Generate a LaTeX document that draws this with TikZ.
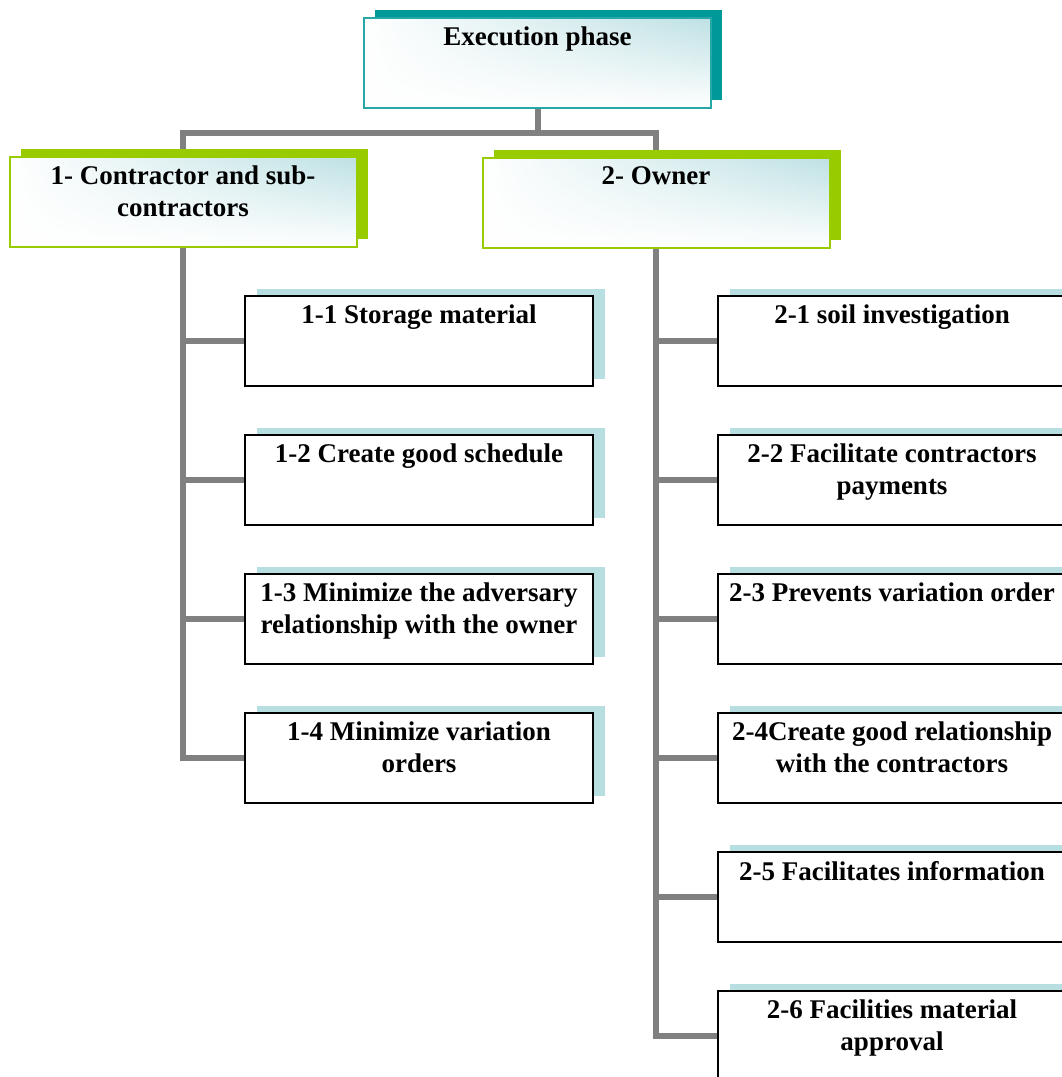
\documentclass[tikz,border=0pt]{standalone}
\usepackage{fontspec}
\setmainfont{Liberation Serif}
\usetikzlibrary{shadows,fadings,backgrounds}

\definecolor{tealdark}{HTML}{009999}
\definecolor{tealline}{HTML}{26A8A8}
\definecolor{leafgreen}{HTML}{99CC00}
\definecolor{paleteal}{HTML}{B7DEE1}
\definecolor{glow}{HTML}{BEE1E4}
\definecolor{linkgray}{HTML}{808080}

\tikzset{
  link/.style={draw=linkgray, line width=6pt},
  glowfill/.style={fill=white, path picture={
      \shade[top color=glow, bottom color=white, path fading=west]
        (path picture bounding box.south west) rectangle (path picture bounding box.north east);}},
  headbox/.style={draw=tealline, line width=2pt, glowfill, inner sep=0pt,
      minimum width=347pt, minimum height=90pt,
      general shadow={fill=tealdark, shadow xshift=11pt, shadow yshift=8pt}},
  groupbox/.style={draw=leafgreen, line width=2pt, glowfill, inner sep=0pt,
      minimum width=347pt, minimum height=90pt,
      general shadow={fill=leafgreen, shadow xshift=11pt, shadow yshift=8pt}},
  taskbox/.style={draw=black, line width=2pt, fill=white, inner sep=0pt,
      minimum width=348pt, minimum height=90pt,
      general shadow={fill=paleteal, shadow xshift=12pt, shadow yshift=7pt}},
  lbl/.style={anchor=north, inner sep=0pt, align=center,
      font=\bfseries\fontsize{27}{32}\selectfont},
}

\begin{document}
\begin{tikzpicture}[x=1pt,y=-1pt]
\useasboundingbox (0,0) rectangle (1062,1077);
\clip (0,0) rectangle (1062,1077);

% boxes
\node[headbox] (top) at (537.5,63) {};
\node[groupbox] (g1) at (183,202) {};
\node[groupbox] (g2) at (656,202.5) {};

\node[taskbox] (c11) at (419,341) {};
\node[taskbox] (c12) at (419,480) {};
\node[taskbox] (c13) at (419,619) {};
\node[taskbox] (c14) at (419,758) {};

\node[taskbox] (c21) at (892,341) {};
\node[taskbox] (c22) at (892,480) {};
\node[taskbox] (c23) at (892,619) {};
\node[taskbox] (c24) at (892,758) {};
\node[taskbox] (c25) at (892,897) {};
\node[taskbox] (c26) at (892,1036) {};

% labels
\node[lbl] (t0) at ([yshift=-10pt]top.north) {Execution phase};
\node[lbl] (t1) at ([yshift=-10pt]g1.north) {1- Contractor and sub-\\contractors};
\node[lbl] (t2) at ([yshift=-10pt]g2.north) {2- Owner};

\node[lbl] (t11) at ([yshift=-10pt]c11.north) {1-1 Storage material};
\node[lbl] (t12) at ([yshift=-10pt]c12.north) {1-2 Create good schedule};
\node[lbl] (t13) at ([yshift=-10pt]c13.north) {1-3 Minimize the adversary\\relationship with the owner};
\node[lbl] (t14) at ([yshift=-10pt]c14.north) {1-4 Minimize variation\\orders};

\node[lbl] (t21) at ([yshift=-10pt]c21.north) {2-1 soil investigation};
\node[lbl] (t22) at ([yshift=-10pt]c22.north) {2-2 Facilitate contractors\\payments};
\node[lbl] (t23) at ([yshift=-10pt]c23.north) {2-3 Prevents variation order};
\node[lbl] (t24) at ([yshift=-10pt]c24.north) {2-4Create good relationship\\with the contractors};
\node[lbl] (t25) at ([yshift=-10pt]c25.north) {2-5 Facilitates information};
\node[lbl] (t26) at ([yshift=-10pt]c26.north) {2-6 Facilities material\\approval};

% connectors, kept behind the boxes and their shadows
\begin{scope}[on background layer]
  \coordinate (hub) at (537.5,133);
  \draw[link] (top.south) -- (hub);
  \draw[link] (g1.north) |- (hub) -| (g2.north);

  \draw[link] (g1.south) |- (c14.west);
  \foreach \c in {c11,c12,c13}
    \draw[link] (g1.south |- \c.west) -- (\c.west);

  \draw[link] (g2.south) |- (c26.west);
  \foreach \c in {c21,c22,c23,c24,c25}
    \draw[link] (g2.south |- \c.west) -- (\c.west);
\end{scope}
\end{tikzpicture}
\end{document}
